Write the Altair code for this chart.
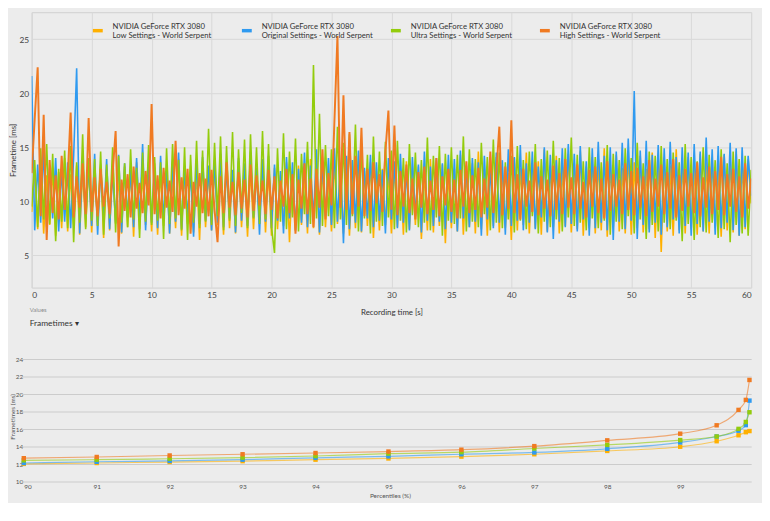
import altair as alt
import pandas as pd

SERIES = [
    "NVIDIA GeForce RTX 3080|Low Settings - World Serpent",
    "NVIDIA GeForce RTX 3080|Original Settings - World Serpent",
    "NVIDIA GeForce RTX 3080|Ultra Settings - World Serpent",
    "NVIDIA GeForce RTX 3080|High Settings - World Serpent",
]
COLORS = ["#FFB000", "#2F9AF0", "#93CC0C", "#F07A22"]

# sample grid of the recording (seconds)
time_s = [i * 0.25 for i in range(241)]

low = [
    9.0, 12.9, 7.4, 13.6, 7.0, 12.4, 7.8, 13.1, 6.8, 12.7, 7.5, 14.0, 7.2, 12.5, 7.9, 13.3, 6.9, 12.8, 7.6, 13.5,
    7.1, 12.6, 7.7, 13.4, 6.6, 12.9, 7.3, 13.8, 7.9, 12.3, 7.0, 13.2, 7.6, 12.8, 6.7, 13.6, 7.4, 12.5, 7.8, 13.0,
    7.2, 13.5, 6.9, 12.7, 7.7, 13.1, 7.0, 12.4, 7.5, 13.9, 6.8, 12.6, 7.9, 13.3, 7.1, 12.8, 6.4, 13.7, 7.6, 12.9,
    7.3, 13.2, 7.8, 12.6, 6.9, 13.4, 7.5, 12.8, 7.0, 13.7, 7.6, 12.5, 6.7, 13.0, 7.4, 12.7, 7.9, 13.5, 7.1, 12.9,
    6.8, 13.1, 7.4, 12.4, 7.7, 13.6, 6.2, 12.8, 7.3, 13.3, 7.8, 12.6, 7.0, 13.9, 7.5, 12.7, 6.9, 13.2, 7.6, 12.5,
    7.2, 13.8, 7.9, 12.9, 7.0, 13.4, 6.8, 12.6, 7.5, 13.1, 7.1, 12.8, 7.7, 13.6, 6.6, 12.4, 7.3, 13.0, 7.8, 12.7,
    7.0, 13.3, 7.6, 12.9, 6.9, 13.7, 7.4, 12.5, 7.8, 13.2, 6.5, 12.8, 7.3, 13.9, 7.1, 12.6, 7.7, 13.4, 6.1, 12.7,
    7.5, 13.0, 7.2, 14.3, 6.9, 12.8, 7.6, 13.5, 7.0, 14.6, 7.4, 12.9, 6.8, 13.8, 7.7, 14.1, 7.1, 13.2, 7.5, 12.6,
    6.4, 14.0, 7.3, 13.1, 7.8, 14.5, 7.0, 12.9, 7.5, 13.7, 6.9, 14.8, 7.2, 13.3, 7.6, 14.2, 7.0, 13.0, 7.7, 14.4,
    7.1, 13.5, 7.4, 14.7, 6.8, 13.2, 7.5, 14.1, 7.0, 13.8, 7.3, 14.9, 6.7, 13.4, 7.6, 14.3, 7.2, 13.1, 7.0, 14.6,
    6.9, 13.6, 7.5, 14.2, 7.1, 13.0, 7.4, 14.5, 6.6, 13.7, 5.3, 14.0, 7.2, 13.3, 6.8, 14.8, 7.3, 13.5, 7.0, 14.1,
    7.4, 13.2, 6.9, 14.4, 7.2, 13.6, 7.0, 14.0, 7.5, 13.1, 6.7, 14.3, 7.3, 13.8, 7.1, 14.6, 6.8, 13.4, 7.4, 13.9, 9.8,
]
original = [
    21.6, 7.3, 13.4, 8.0, 14.8, 7.6, 13.1, 8.4, 14.0, 7.2, 12.9, 8.1, 13.6, 7.5, 14.2, 22.3, 7.0, 14.1, 8.3, 13.3,
    7.7, 14.4, 6.9, 13.2, 8.2, 13.9, 7.4, 12.8, 8.0, 14.3, 7.1, 13.5, 8.5, 12.9, 7.6, 14.0, 8.1, 15.3, 7.3, 13.6,
    8.0, 13.1, 7.5, 14.2, 8.3, 12.8, 7.0, 13.7, 8.1, 14.5, 7.4, 13.0, 8.6, 12.7, 6.7, 13.9, 7.9, 14.1, 8.2, 13.3,
    7.3, 13.8, 8.0, 14.4, 7.6, 13.2, 8.4, 12.9, 7.1, 14.0, 8.2, 13.5, 7.7, 14.6, 8.5, 13.1, 6.9, 13.9, 8.1, 14.2,
    7.5, 13.4, 8.2, 12.8, 7.0, 14.1, 8.4, 13.6, 7.3, 13.0, 8.0, 14.5, 7.6, 13.3, 8.3, 14.8, 7.1, 13.7, 8.6, 14.0,
    7.8, 14.9, 8.1, 13.5, 6.1, 14.2, 7.4, 13.8, 8.0, 14.7, 7.2, 13.1, 8.4, 14.3, 7.6, 13.6, 8.2, 12.9, 7.0, 14.0,
    8.3, 13.7, 7.5, 14.4, 8.0, 13.0, 7.3, 14.1, 8.6, 13.4, 7.1, 14.6, 8.2, 13.2, 7.7, 14.0, 8.1, 13.5, 7.4, 14.3,
    8.0, 13.9, 7.2, 14.7, 8.4, 13.3, 7.6, 14.0, 8.1, 13.6, 6.8, 14.2, 8.3, 13.1, 7.5, 14.5, 8.0, 13.8, 6.9, 14.8,
    7.7, 14.1, 8.2, 15.2, 7.3, 13.5, 8.0, 14.6, 7.4, 13.2, 8.5, 15.0, 7.1, 14.3, 6.5, 13.8, 8.1, 14.9, 7.6, 15.3,
    7.9, 14.4, 7.2, 15.1, 8.3, 13.7, 6.8, 14.9, 7.5, 15.5, 8.0, 14.2, 7.3, 15.0, 6.4, 14.6, 8.1, 15.4, 7.4, 15.8,
    8.2, 20.2, 6.5, 14.7, 7.8, 15.6, 7.1, 14.3, 8.0, 15.2, 6.9, 14.9, 7.6, 15.5, 8.3, 14.1, 7.0, 15.0, 7.7, 14.5,
    6.8, 15.3, 7.9, 14.6, 7.2, 15.9, 8.1, 14.8, 6.9, 15.1, 7.5, 14.4, 8.0, 15.4, 7.3, 14.9, 6.8, 15.0, 7.6, 14.2, 10.5,
]
ultra = [
    9.5, 13.8, 7.6, 14.9, 8.3, 15.3, 7.9, 14.4, 6.3, 13.0, 8.1, 14.7, 7.5, 15.1, 6.2, 13.6, 8.0, 16.2, 7.4, 14.0,
    8.2, 13.9, 7.7, 14.6, 6.9, 13.4, 8.4, 15.0, 7.1, 14.2, 8.0, 13.5, 7.6, 14.8, 8.3, 13.1, 6.6, 14.5, 8.1, 15.2,
    7.8, 14.1, 8.2, 13.6, 6.5, 14.9, 7.9, 15.3, 8.4, 13.8, 7.3, 15.0, 6.4, 14.3, 8.0, 15.6, 7.5, 14.7, 8.1, 16.7,
    7.8, 15.4, 8.6, 16.0, 7.3, 15.1, 8.2, 16.4, 7.7, 14.8, 8.9, 15.7, 7.5, 16.2, 8.4, 15.0, 7.9, 16.5, 8.3, 15.3,
    7.6, 5.2, 14.9, 8.1, 16.3, 7.4, 14.6, 8.5, 15.8, 7.2, 14.4, 8.8, 15.5, 7.9, 22.6, 8.4, 18.1, 7.7, 15.2, 8.6,
    14.8, 7.5, 16.9, 8.3, 15.4, 7.8, 16.2, 8.6, 17.1, 7.2, 15.0, 8.4, 14.3, 7.0, 16.0, 8.1, 14.6, 7.7, 15.5, 8.5,
    14.7, 7.4, 15.6, 8.2, 14.0, 7.1, 15.3, 8.7, 14.5, 7.6, 13.8, 8.0, 15.9, 7.3, 14.2, 8.5, 15.1, 6.8, 14.4, 8.2,
    15.0, 7.9, 14.3, 8.4, 16.0, 7.2, 14.8, 8.1, 13.9, 7.6, 15.4, 8.8, 14.1, 7.3, 15.7, 8.0, 14.5, 7.5, 13.6, 8.3,
    14.2, 7.1, 15.1, 8.2, 13.8, 7.4, 14.6, 8.6, 15.3, 7.0, 13.9, 8.1, 14.7, 7.6, 15.6, 8.3, 14.0, 7.2, 14.9, 8.5,
    15.9, 7.7, 14.3, 8.0, 13.7, 7.3, 15.0, 8.4, 14.1, 7.5, 13.6, 8.2, 15.2, 6.9, 14.4, 8.1, 13.8, 7.4, 14.9, 8.6,
    14.0, 7.0, 15.4, 8.3, 13.5, 6.5, 14.6, 7.8, 14.2, 7.2, 15.1, 8.0, 13.9, 7.4, 14.5, 8.2, 13.6, 6.3, 15.3, 7.9,
    14.1, 6.4, 13.7, 7.6, 15.0, 7.1, 14.3, 8.0, 13.8, 6.6, 14.8, 7.4, 13.5, 6.2, 14.6, 7.8, 13.9, 7.0, 14.2, 6.8, 12.9,
]
high = [
    12.6, 17.6, 22.4, 8.6, 18.0, 6.4, 13.8, 8.9, 12.4, 8.3, 14.2, 9.2, 12.1, 18.2, 8.5, 12.3, 9.4, 13.5, 8.8, 17.7,
    9.0, 12.2, 8.6, 13.0, 9.5, 11.8, 8.8, 12.6, 16.5, 5.8, 12.0, 9.1, 12.5, 8.5, 13.2, 9.3, 11.7, 8.9, 12.8, 9.6,
    19.0, 8.8, 12.4, 8.4, 13.1, 9.4, 11.9, 9.0, 15.6, 8.7, 12.2, 9.3, 13.0, 7.0, 11.8, 9.5, 12.6, 8.9, 12.1, 8.6,
    12.9, 9.2, 6.2, 12.3, 8.9, 13.6, 9.4, 11.8, 8.7, 12.7, 9.3, 12.0, 8.5, 13.4, 9.1, 12.4, 9.6, 11.9, 8.8, 12.9,
    9.2, 12.3, 8.4, 11.9, 9.5, 13.0, 8.9, 12.5, 7.0, 12.0, 9.3, 13.5, 8.8, 12.1, 7.6, 13.0, 9.4, 14.8, 8.3, 12.6,
    9.6, 17.5, 25.3, 9.4, 19.8, 9.2, 16.4, 8.8, 14.2, 9.5, 16.8, 8.6, 13.0, 9.1, 13.6, 9.8, 12.5, 9.0, 14.6, 18.4,
    9.2, 17.0, 8.7, 12.8, 9.5, 13.4, 8.9, 12.1, 8.3, 12.7, 9.4, 13.2, 8.8, 11.9, 9.2, 14.0, 8.6, 12.3, 9.6, 13.0,
    9.0, 12.0, 8.4, 12.9, 9.5, 13.7, 8.9, 12.4, 9.2, 13.1, 8.5, 12.1, 9.4, 14.6, 8.9, 12.7, 16.9, 8.7, 13.2, 9.3,
    17.5, 8.9, 12.5, 8.3, 13.0, 9.5, 11.9, 9.0, 13.6, 8.7, 12.3, 9.3, 12.0, 8.6, 13.3, 9.2, 12.6, 8.8, 13.9, 9.4,
    12.2, 8.8, 13.4, 9.3, 11.8, 8.5, 12.9, 9.5, 13.2, 8.9, 12.1, 8.4, 13.7, 9.1, 12.5, 9.5, 12.0, 8.8, 13.5, 9.2,
    12.8, 8.7, 13.1, 9.4, 12.3, 8.6, 13.8, 9.0, 12.1, 9.5, 13.4, 8.8, 12.7, 9.3, 13.9, 8.5, 12.4, 9.1, 13.0, 9.5,
    12.6, 8.9, 13.6, 8.6, 12.2, 9.4, 13.2, 8.8, 12.8, 9.2, 14.1, 8.7, 12.5, 9.5, 13.0, 9.0, 12.3, 8.5, 13.5, 9.3, 12.1,
]

percentiles = [90, 91, 92, 93, 94, 95, 96, 97, 98, 99, 99.5, 99.8, 99.9, 99.95]
p_low = [12.07, 12.17, 12.28, 12.38, 12.55, 12.69, 12.90, 13.17, 13.55, 14.03, 14.66, 15.34, 15.69, 15.82]
p_original = [12.17, 12.31, 12.41, 12.55, 12.76, 12.93, 13.17, 13.38, 13.79, 14.52, 15.20, 15.86, 16.50, 19.30]
p_ultra = [12.48, 12.55, 12.66, 12.79, 12.97, 13.24, 13.41, 13.83, 14.24, 14.79, 15.20, 16.07, 16.86, 17.97]
p_high = [12.72, 12.86, 13.03, 13.17, 13.31, 13.48, 13.69, 14.10, 14.76, 15.52, 16.48, 18.24, 19.38, 21.66]

x_ticks_top = [0, 5, 10, 15, 20, 25, 30, 35, 40, 45, 50, 55, 60]
y_ticks_top = [5, 10, 15, 20, 25]
x_ticks_bottom = [90, 91, 92, 93, 94, 95, 96, 97, 98, 99]
y_ticks_bottom = [10, 12, 14, 16, 18, 20, 22, 24]

FONT = "Lato"
BG = "#ececec"

ft_rows = []
for name, vals in zip(SERIES, [low, original, ultra, high]):
    for t, v in zip(time_s, vals):
        ft_rows.append({"t": t, "ms": v, "series": name})
ft = pd.DataFrame(ft_rows)

pc_rows = []
for name, vals in zip(SERIES, [p_low, p_original, p_ultra, p_high]):
    for p, v in zip(percentiles, vals):
        pc_rows.append({"p": p, "ms": v, "series": name})
pc = pd.DataFrame(pc_rows)
grid_df = pd.DataFrame({"ms": y_ticks_bottom})

color_scale = alt.Scale(domain=SERIES, range=COLORS)

legend = alt.Legend(
    orient="none", legendX=60, legendY=11.5, direction="horizontal", columns=4,
    title=None, symbolType="stroke", symbolStrokeWidth=3.5, symbolSize=100,
    labelExpr="split(datum.label, '|')", labelFontSize=7.8, labelColor="#333333",
    labelFont=FONT, labelBaseline="bottom", gridAlign="all", columnPadding=11,
    labelOffset=8, padding=0, labelLimit=300,
)

x_top = alt.X("t:Q", scale=alt.Scale(domain=[0, 60], nice=False),
              axis=alt.Axis(values=x_ticks_top, title="Recording time [s]", grid=True,
                            gridColor="#d8d8d8", domain=False, ticks=False, tickSize=0,
                            labelFontSize=8.5, labelColor="#444444", labelPadding=3,
                            labelFlush=True, labelFlushOffset=0,
                            titleFontSize=8, titleFontWeight="normal", titleColor="#333333",
                            titlePadding=10, labelFont=FONT, titleFont=FONT, minExtent=0))
y_top = alt.Y("ms:Q", scale=alt.Scale(domain=[2, 27.5], nice=False, zero=False),
              axis=alt.Axis(values=y_ticks_top, title="Frametime [ms]", grid=True,
                            gridColor="#d8d8d8", domain=False, ticks=False, tickSize=0,
                            labelFontSize=8.5, labelColor="#444444", labelPadding=3,
                            titleFontSize=8, titleFontWeight="normal", titleColor="#333333",
                            titlePadding=2, labelFont=FONT, titleFont=FONT, minExtent=0))

top_layers = []
for name, sw in zip(SERIES, [1.6, 1.6, 1.6, 2.0]):
    top_layers.append(
        alt.Chart(ft).transform_filter(alt.datum.series == name)
        .mark_line(strokeWidth=sw, clip=True)
        .encode(x=x_top, y=y_top,
                color=alt.Color("series:N", scale=color_scale, legend=legend))
    )

top = alt.layer(*top_layers).properties(
    width=729, height=279,
    view=alt.ViewBackground(stroke="#cfcfcf", strokeWidth=1),
    title=alt.TitleParams(
        text="Values", subtitle="Frametimes  \u25be", orient="bottom", anchor="start",
        frame="group", fontSize=6, color="#8a8a8a", fontWeight="normal", font=FONT,
        subtitleFontSize=8.5, subtitleColor="#333333", subtitleFont=FONT,
        subtitlePadding=6, offset=-10, dx=-2,
    ),
)

BOT_W = 730
bot_scale = alt.Scale(domain=[90, 100], nice=False, zero=False, range=[-8, BOT_W + 1])
bot_x_axis = alt.Axis(values=x_ticks_bottom, format="d", title="Percentiles (%)", grid=False,
                      domain=False, ticks=False, tickSize=0,
                      labelFontSize=6.5, labelColor="#555555", labelPadding=2,
                      titleFontSize=6.5, titleFontWeight="normal", titleColor="#555555",
                      titlePadding=2, titleX=363, labelFont=FONT, titleFont=FONT, minExtent=0)
x_bot = alt.X("p:Q", scale=bot_scale, axis=bot_x_axis)
y_bot = alt.Y("ms:Q", scale=alt.Scale(domain=[10, 25], nice=False, zero=False),
              axis=alt.Axis(values=y_ticks_bottom, title="Frametimes (ms)", grid=False,
                            domain=False, ticks=False, tickSize=0,
                            labelFontSize=6.5, labelColor="#555555", labelPadding=9,
                            titleFontSize=6.5, titleFontWeight="normal", titleColor="#555555",
                            titlePadding=0, labelFont=FONT, titleFont=FONT, minExtent=0))

bot_layers = [
    alt.Chart(grid_df).mark_rule(color="#cccccc", strokeWidth=1.2).encode(
        x=alt.X(datum=89.97, scale=bot_scale, axis=bot_x_axis),
        x2=alt.datum(99.98),
        y=y_bot,
    )
]
for name in SERIES:
    base = alt.Chart(pc).transform_filter(alt.datum.series == name)
    bot_layers.append(
        base.mark_line(strokeWidth=1.2, opacity=0.6, interpolate="monotone")
        .encode(x=x_bot, y=y_bot, color=alt.Color("series:N", scale=color_scale, legend=None))
    )
    bot_layers.append(
        base.mark_point(shape="square", filled=True, size=20, opacity=1)
        .encode(x=x_bot, y=y_bot, color=alt.Color("series:N", scale=color_scale, legend=None))
    )

bottom = alt.layer(*bot_layers).properties(
    width=BOT_W, height=133,
    view=alt.ViewBackground(stroke="transparent"),
)

chart = alt.concat(top, bottom, columns=1, spacing=22).resolve_scale(
    color="independent"
).configure(
    background=BG,
    padding={"left": 0, "top": 0, "right": 0, "bottom": 0},
)

chart.save("out.html", embed_options={"renderer": "svg", "actions": False})
